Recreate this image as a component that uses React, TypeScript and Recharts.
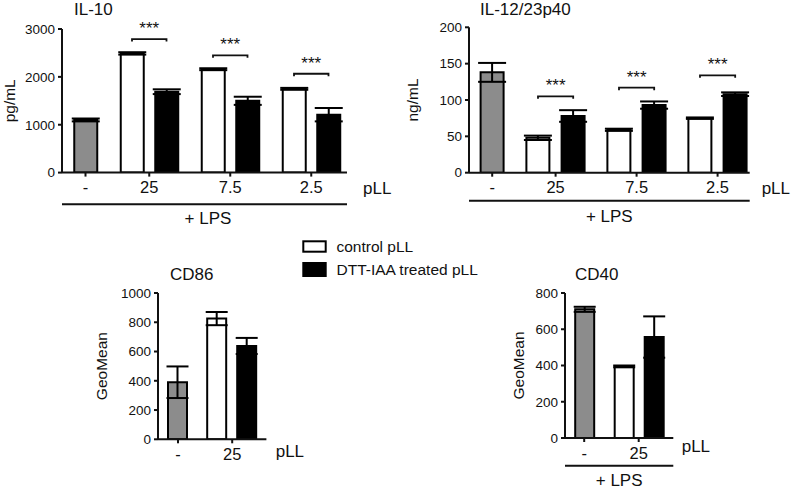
import { Bar, BarChart, Cell, ErrorBar, ReferenceLine, XAxis, YAxis } from 'recharts';

const FONT = '"Liberation Sans", Arial, Helvetica, sans-serif';
const INK = '#111';
const GREY = '#8c8c8c';

// pLL doses on the x axis; the grey "-" bar is LPS alone
const DOSES = ['25', '7.5', '2.5'];
const CD_DOSES = ['25'];

// IL-10 (pg/mL)
const IL10_LPS = [1100];
const IL10_LPS_ERR = [30];
const IL10_CONTROL = [2490, 2160, 1750];
const IL10_CONTROL_ERR = [25, 20, 20];
const IL10_TREATED = [1690, 1500, 1210];
const IL10_TREATED_ERR = [50, 85, 140];
const IL10_SIG = [2790, 2450, 2065];
const IL10_TICKS = [0, 1000, 2000, 3000];

// IL-12/23p40 (ng/mL)
const IL12_LPS = [138];
const IL12_LPS_ERR = [13];
const IL12_CONTROL = [48, 59, 75];
const IL12_CONTROL_ERR = [3, 1.5, 1];
const IL12_TREATED = [78, 93, 108];
const IL12_TREATED_ERR = [8, 5, 2.5];
const IL12_SIG = [105, 117, 134];
const IL12_TICKS = [0, 50, 100, 150, 200];

// CD86 (GeoMean)
const CD86_LPS = [390];
const CD86_LPS_ERR = [108];
const CD86_CONTROL = [825];
const CD86_CONTROL_ERR = [45];
const CD86_TREATED = [638];
const CD86_TREATED_ERR = [55];
const CD86_TICKS = [0, 200, 400, 600, 800, 1000];

// CD40 (GeoMean)
const CD40_LPS = [710];
const CD40_LPS_ERR = [14];
const CD40_CONTROL = [395];
const CD40_CONTROL_ERR = [5];
const CD40_TREATED = [557];
const CD40_TREATED_ERR = [114];
const CD40_TICKS = [0, 200, 400, 600, 800];

type Layout = {
  plotX: number;
  plotY: number;
  plotW: number;
  plotH: number;
  top: number; // room above the plot (for the *** labels)
  padL: number;
  padR: number;
  gapG: number; // grey -> first white, black -> next white
  gapP: number; // white -> black inside a pair
  barSize: number;
  cap: number;
  xAxisH: number;
  lpsH: number;
  lpsDx: number;
  lpsDy: number;
  pllDx: number;
  pllDy: number;
  yLabelOff: number;
};

const AXIS_W = 74;
const RIGHT = 60;

type PanelProps = {
  yLabel: string;
  yTicks: number[];
  doses: string[];
  lps: number[];
  lpsErr: number[];
  control: number[];
  controlErr: number[];
  treated: number[];
  treatedErr: number[];
  sig: number[];
  L: Layout;
};

function Panel({ yLabel, yTicks, doses, lps, lpsErr, control, controlErr, treated, treatedErr, sig, L }: PanelProps) {
  const groupX = doses.map((_, i) => L.gapG + i * (L.gapP + L.gapG));
  const rows: { x: number; value: number; err: number; fill: string }[] = [
    { x: 0, value: lps[0], err: lpsErr[0], fill: GREY },
  ];
  groupX.forEach((gx, i) => {
    rows.push({ x: gx, value: control[i], err: controlErr[i], fill: '#fff' });
    rows.push({ x: gx + L.gapP, value: treated[i], err: treatedErr[i], fill: '#000' });
  });
  const ticks = [0, ...groupX.map((gx) => gx + L.gapP / 2)];
  const tickText = new Map<number, string>(ticks.map((t, i) => [t, i === 0 ? '-' : doses[i - 1]]));
  const domain = [-L.padL, groupX[groupX.length - 1] + L.gapP + L.padR];
  const width = AXIS_W + L.plotW + RIGHT;
  const height = L.top + L.plotH + L.xAxisH + L.lpsH;
  const axisStyle = { stroke: INK, strokeWidth: 2 };

  return (
    <div style={{ position: 'absolute', left: L.plotX - AXIS_W, top: L.plotY - L.top }}>
      <BarChart width={width} height={height} data={rows} margin={{ top: L.top, right: RIGHT, bottom: 0, left: 0 }}>
        <XAxis
          xAxisId="dose"
          dataKey="x"
          type="number"
          domain={domain}
          ticks={ticks}
          interval={0}
          allowDataOverflow
          tickFormatter={(v: number) => tickText.get(v) ?? ''}
          height={L.xAxisH}
          tickSize={4}
          tickMargin={5}
          axisLine={axisStyle}
          tickLine={axisStyle}
          tick={{ fill: INK, fontSize: 16.5, fontFamily: FONT }}
          label={(p: any) => {
            const vb = p.viewBox;
            return (
              <text x={vb.x + vb.width + L.pllDx} y={vb.y + L.pllDy} dy="0.36em" fontSize={17} fill={INK} fontFamily={FONT}>
                pLL
              </text>
            );
          }}
        />
        {L.lpsH > 0 && (
          <XAxis
            xAxisId="lps"
            dataKey="x"
            type="number"
            domain={domain}
            allowDataOverflow
            height={L.lpsH}
            tick={false}
            tickLine={false}
            axisLine={axisStyle}
            label={(p: any) => {
              const vb = p.viewBox;
              return (
                <text x={vb.x + vb.width / 2 + L.lpsDx} y={vb.y + L.lpsDy} dy="0.36em" textAnchor="middle" fontSize={17} fill={INK} fontFamily={FONT}>
                  + LPS
                </text>
              );
            }}
          />
        )}
        <YAxis
          type="number"
          width={AXIS_W}
          domain={[0, yTicks[yTicks.length - 1]]}
          ticks={yTicks}
          interval={0}
          allowDataOverflow
          tickSize={4}
          tickMargin={3}
          axisLine={axisStyle}
          tickLine={axisStyle}
          tick={{ fill: INK, fontSize: 13.5, fontFamily: FONT }}
          label={(p: any) => {
            const vb = p.viewBox;
            const cx = vb.x + vb.width - L.yLabelOff;
            const cy = vb.y + vb.height / 2;
            return (
              <text x={cx} y={cy} dy="0.36em" textAnchor="middle" transform={`rotate(-90 ${cx} ${cy})`} fontSize={15.5} fill={INK} fontFamily={FONT}>
                {yLabel}
              </text>
            );
          }}
        />
        <Bar xAxisId="dose" dataKey="value" barSize={L.barSize} stroke="#000" strokeWidth={2} isAnimationActive={false}>
          {rows.map((r, i) => (
            <Cell key={i} fill={r.fill} />
          ))}
          <ErrorBar dataKey="err" direction="y" width={L.cap} stroke="#000" strokeWidth={2} isAnimationActive={false} />
        </Bar>
        {sig.map((s, i) => (
          <ReferenceLine
            key={i}
            xAxisId="dose"
            segment={[
              { x: groupX[i], y: s },
              { x: groupX[i] + L.gapP, y: s },
            ]}
            shape={(p: any) => (
              <path d={`M${p.x1},${p.y1 + 2.5}V${p.y1}H${p.x2}V${p.y2 + 2.5}`} fill="none" stroke={INK} strokeWidth={1.8} />
            )}
            label={{ value: '***', position: 'top', offset: 5, fontSize: 17, fill: INK, fontFamily: FONT }}
          />
        ))}
      </BarChart>
    </div>
  );
}

const IL10_L: Layout = {
  plotX: 62, plotY: 29, plotW: 285, plotH: 143.6, top: 29,
  padL: 23.5, padR: 18.5, gapG: 46.5, gapP: 34.5, barSize: 23, cap: 14,
  xAxisH: 31.7, lpsH: 26, lpsDx: 3.5, lpsDy: 13.2, pllDx: 16, pllDy: 15, yLabelOff: 52.5,
};
const IL12_L: Layout = {
  plotX: 469.3, plotY: 27.3, plotW: 280.7, plotH: 145.4, top: 27.3,
  padL: 23.2, padR: 14.5, gapG: 45.8, gapP: 35.2, barSize: 23, cap: 14,
  xAxisH: 28, lpsH: 31, lpsDx: 0, lpsDy: 15.2, pllDx: 12, pllDy: 15, yLabelOff: 56.5,
};
const CD86_L: Layout = {
  plotX: 158.3, plotY: 292.7, plotW: 108.4, plotH: 146.3, top: 10,
  padL: 20, padR: 19.2, gapG: 39.2, gapP: 30, barSize: 19, cap: 11,
  xAxisH: 30, lpsH: 0, lpsDx: 0, lpsDy: 0, pllDx: 9.3, pllDy: 11.5, yLabelOff: 56.6,
};
const CD40_L: Layout = {
  plotX: 565, plotY: 293.3, plotW: 108.3, plotH: 145, top: 10,
  padL: 19.2, padR: 19.6, gapG: 39.5, gapP: 30, barSize: 19, cap: 11,
  xAxisH: 27.7, lpsH: 23.8, lpsDx: 0, lpsDy: 14, pllDx: 8.4, pllDy: 7.7, yLabelOff: 47,
};

export default function App() {
  return (
    <div style={{ position: 'absolute', left: 0, top: 0, width: 800, height: 490, background: '#fff', overflow: 'hidden' }}>
      <Panel yLabel="pg/mL" yTicks={IL10_TICKS} doses={DOSES} lps={IL10_LPS} lpsErr={IL10_LPS_ERR}
        control={IL10_CONTROL} controlErr={IL10_CONTROL_ERR} treated={IL10_TREATED} treatedErr={IL10_TREATED_ERR}
        sig={IL10_SIG} L={IL10_L} />
      <Panel yLabel="ng/mL" yTicks={IL12_TICKS} doses={DOSES} lps={IL12_LPS} lpsErr={IL12_LPS_ERR}
        control={IL12_CONTROL} controlErr={IL12_CONTROL_ERR} treated={IL12_TREATED} treatedErr={IL12_TREATED_ERR}
        sig={IL12_SIG} L={IL12_L} />
      <Panel yLabel="GeoMean" yTicks={CD86_TICKS} doses={CD_DOSES} lps={CD86_LPS} lpsErr={CD86_LPS_ERR}
        control={CD86_CONTROL} controlErr={CD86_CONTROL_ERR} treated={CD86_TREATED} treatedErr={CD86_TREATED_ERR}
        sig={[]} L={CD86_L} />
      <Panel yLabel="GeoMean" yTicks={CD40_TICKS} doses={CD_DOSES} lps={CD40_LPS} lpsErr={CD40_LPS_ERR}
        control={CD40_CONTROL} controlErr={CD40_CONTROL_ERR} treated={CD40_TREATED} treatedErr={CD40_TREATED_ERR}
        sig={[]} L={CD40_L} />

      {/* titles + shared legend */}
      <svg width={800} height={490} style={{ position: 'absolute', left: 0, top: 0, pointerEvents: 'none' }} fontFamily={FONT} fill={INK}>
        <text x={74} y={15.3} fontSize={17}>IL-10</text>
        <text x={480} y={15.3} fontSize={17}>IL-12/23p40</text>
        <text x={170} y={280.1} fontSize={17}>CD86</text>
        <text x={575} y={280.1} fontSize={17}>CD40</text>
        <rect x={303.3} y={241.3} width={22.4} height={10.4} fill="#fff" stroke="#000" strokeWidth={2} />
        <rect x={303.3} y={263} width={22.4} height={13} fill="#000" stroke="#000" strokeWidth={2} />
        <text x={336.5} y={252} fontSize={15.5}>control pLL</text>
        <text x={336.5} y={275} fontSize={15.5}>DTT-IAA treated pLL</text>
      </svg>
    </div>
  );
}
